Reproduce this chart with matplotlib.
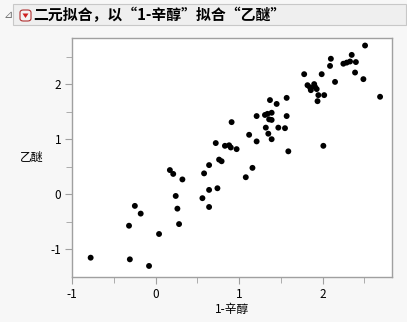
import numpy as np
import matplotlib
matplotlib.use('Agg')
import matplotlib.pyplot as plt
from matplotlib.patches import Rectangle, FancyBboxPatch, Polygon
from matplotlib.ticker import MultipleLocator

plt.rcParams['font.family'] = ['Noto Sans CJK SC', 'DejaVu Sans']
plt.rcParams['axes.unicode_minus'] = False

# 数据: 1-辛醇 (x) 与 乙醚 (y)
octanol = [-0.78, -0.31, -0.08, -0.32, -0.25, -0.18, 0.04, 0.24, 0.26, 0.28,
           0.17, 0.21, 0.32, 0.56, 0.64, 0.64, 0.74, 0.58, 0.64, 0.76,
           0.79, 0.72, 0.83, 0.88, 0.90, 0.97, 0.91, 1.08, 1.16, 1.12,
           1.21, 1.21, 1.31, 1.34, 1.39, 1.36, 1.39, 1.32, 1.47, 1.55,
           1.35, 1.39, 1.57, 1.59, 1.37, 1.45, 1.57, 1.78, 1.82, 1.85,
           1.86, 1.90, 1.91, 1.93, 1.95, 2.02, 1.94, 1.99, 2.01, 2.09,
           2.10, 2.15, 2.25, 2.29, 2.33, 2.35, 2.40, 2.39, 2.49, 2.51, 2.69]
ether = [-1.15, -1.18, -1.30, -0.57, -0.21, -0.35, -0.72, -0.03, -0.26, -0.54,
         0.44, 0.37, 0.27, -0.07, -0.23, 0.08, 0.11, 0.38, 0.53, 0.63,
         0.60, 0.93, 0.88, 0.89, 0.85, 0.82, 1.31, 0.31, 0.48, 1.08,
         0.96, 1.42, 1.44, 1.46, 1.48, 1.36, 1.35, 1.21, 1.21, 1.20,
         1.10, 1.00, 1.42, 0.78, 1.71, 1.64, 1.75, 2.18, 1.98, 1.94,
         1.89, 2.00, 1.95, 1.91, 1.80, 1.80, 1.69, 2.18, 0.88, 2.33,
         2.46, 2.04, 2.37, 2.39, 2.41, 2.53, 2.40, 2.21, 2.09, 2.70, 1.77]

title = '二元拟合，以“1-辛醇”拟合“乙醚”'
xlabel = '1-辛醇'
ylabel = '乙醚'

W, H = 407, 322
fig = plt.figure(figsize=(W / 100, H / 100), dpi=100)
fig.patch.set_facecolor('#f7f7f7')

# 标题栏
fig.patches.append(Rectangle((13 / W, 1 - 25 / H), 393 / W, 21 / H, transform=fig.transFigure,
                             facecolor='#efefef', edgecolor='#c8c8c8', linewidth=0.8))
fig.text(3 / W, 1 - 15 / H, '⊿', fontsize=8, color='#707070', va='center', ha='left',
         family=['DejaVu Sans'])
fig.patches.append(FancyBboxPatch((20 / W, 1 - 21 / H), 11 / W, 11 / H, transform=fig.transFigure,
                                  boxstyle='round,pad=0,rounding_size=0.008',
                                  facecolor='#f4f4f4', edgecolor='#b03030', linewidth=0.8))
fig.patches.append(Polygon([(22.5 / W, 1 - 13.5 / H), (28.5 / W, 1 - 13.5 / H), (25.5 / W, 1 - 18 / H)],
                           closed=True, transform=fig.transFigure, facecolor='#d02020', edgecolor='none'))
fig.text(33 / W, 1 - 15 / H, title, fontsize=10.7, fontweight='bold', va='center', ha='left')

ax = fig.add_axes([72.3 / W, 1 - 276.7 / H, (392 - 72.3) / W, (276.7 - 37.7) / H])
ax.scatter(octanol, ether, s=18, color='black', edgecolors='none', zorder=3)

ax.set_xlim(-1, 2.833)
ax.set_ylim(-1.495, 2.842)
ax.xaxis.set_major_locator(MultipleLocator(1))
ax.xaxis.set_minor_locator(MultipleLocator(0.5))
ax.yaxis.set_major_locator(MultipleLocator(1))
ax.yaxis.set_minor_locator(MultipleLocator(0.5))
for s in ax.spines.values():
    s.set_color('#a0a0a0')
    s.set_linewidth(1)
ax.tick_params(which='major', length=5, color='#a0a0a0', labelsize=8.5, labelcolor='black', pad=3)
ax.tick_params(which='minor', length=4, color='#a0a0a0')

ax.set_xlabel(xlabel, fontsize=8.5)
ax.xaxis.set_label_coords(0.5, -0.11)
ax.set_ylabel(ylabel, fontsize=8.5, rotation=0, va='center', ha='center')
ax.yaxis.set_label_coords(-0.128, 0.50)

fig.savefig('out.png', dpi=100, facecolor=fig.get_facecolor())
